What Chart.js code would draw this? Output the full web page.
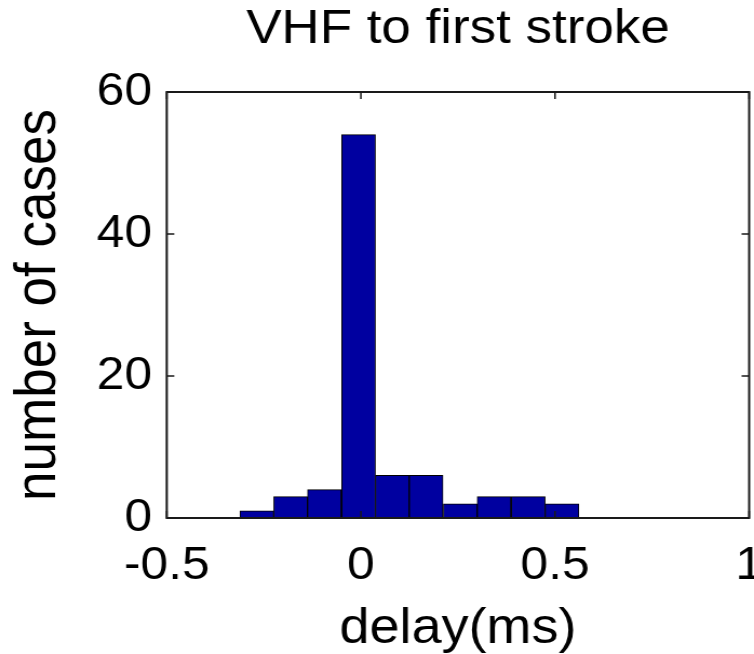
<!DOCTYPE html>
<html>
<head>
<meta charset="utf-8">
<script src="https://cdn.jsdelivr.net/npm/chart.js@4/dist/chart.umd.min.js"></script>
<style>
  html, body { margin: 0; padding: 0; background: #fff; overflow: hidden; }
</style>
</head>
<body>
<canvas id="c" width="698" height="654" style="display:block;width:754px;height:654px;"></canvas>
<script>
// ---- data ----
const binCenters = [-0.268, -0.181, -0.094, -0.006, 0.081, 0.168, 0.256, 0.343, 0.431, 0.518];
const counts     = [1, 3, 4, 54, 6, 6, 2, 3, 3, 2];
const xTicks     = [-0.5, 0, 0.5, 1];
const yTicks     = [0, 20, 40, 60];
const titleText  = 'VHF to first stroke';
const xLabel     = 'delay(ms)';
const yLabel     = 'number of cases';

const FONT = '"Liberation Sans", Arial, Helvetica, sans-serif';

const framePlugin = {
  id: 'frame',
  afterDatasetsDraw(chart) {
    const {ctx, chartArea: a, scales: {x, y}} = chart;
    ctx.save();
    ctx.strokeStyle = '#1a1a1a';
    ctx.lineWidth = 2;
    ctx.strokeRect(a.left, a.top, a.right - a.left, a.bottom - a.top);
    ctx.lineWidth = 1.5;
    const tl = 7;
    ctx.beginPath();
    x.ticks.forEach(t => {
      const px = x.getPixelForValue(t.value);
      ctx.moveTo(px, a.bottom); ctx.lineTo(px, a.bottom - tl);
      ctx.moveTo(px, a.top);    ctx.lineTo(px, a.top + tl);
    });
    y.ticks.forEach(t => {
      const py = y.getPixelForValue(t.value);
      ctx.moveTo(a.left, py);  ctx.lineTo(a.left + tl, py);
      ctx.moveTo(a.right, py); ctx.lineTo(a.right - tl, py);
    });
    ctx.stroke();
    ctx.restore();
  }
};

new Chart(document.getElementById('c'), {
  type: 'bar',
  data: {
    datasets: [{
      data: binCenters.map((c, i) => ({x: c, y: counts[i]})),
      backgroundColor: 'rgb(0,0,160)',
      borderColor: '#000',
      borderWidth: 1,
      barPercentage: 1,
      categoryPercentage: 1
    }]
  },
  options: {
    responsive: false,
    animation: false,
    devicePixelRatio: 1,
    layout: { padding: { left: 0, right: 4.5, top: 0, bottom: 0 } },
    plugins: {
      legend: { display: false },
      tooltip: { enabled: false },
      title: {
        display: true,
        text: titleText,
        fullSize: false,
        color: '#000',
        font: { family: FONT, size: 49, weight: 'normal', lineHeight: 1.2 },
        padding: { top: 0, bottom: 33.2 }
      }
    },
    scales: {
      x: {
        type: 'linear',
        min: -0.5,
        max: 1,
        offset: false,
        grid: { display: false, offset: false, drawTicks: false },
        border: { display: false },
        afterBuildTicks: s => { s.ticks = xTicks.map(v => ({value: v})); },
        afterFit: s => { s.paddingRight = 0; },
        ticks: {
          color: '#000',
          font: { family: FONT, size: 46, lineHeight: 1.2 },
          padding: 20.4,
          maxRotation: 0,
          autoSkip: false,
          callback: v => String(v)
        },
        title: {
          display: true,
          text: xLabel,
          color: '#000',
          font: { family: FONT, size: 50, lineHeight: 0.6 },
          padding: { top: 0, bottom: 10 }
        }
      },
      y: {
        min: 0,
        max: 60,
        grid: { display: false, drawTicks: false },
        border: { display: false },
        afterBuildTicks: s => { s.ticks = yTicks.map(v => ({value: v})); },
        ticks: {
          color: '#000',
          font: { family: FONT, size: 46, lineHeight: 1.2 },
          padding: 13.6,
          callback: v => String(v)
        },
        title: {
          display: true,
          text: yLabel,
          color: '#000',
          font: { family: FONT, size: 53, lineHeight: 1.2 },
          padding: { top: 5, bottom: 7.4 }
        }
      }
    }
  },
  plugins: [framePlugin]
});
</script>
</body>
</html>
